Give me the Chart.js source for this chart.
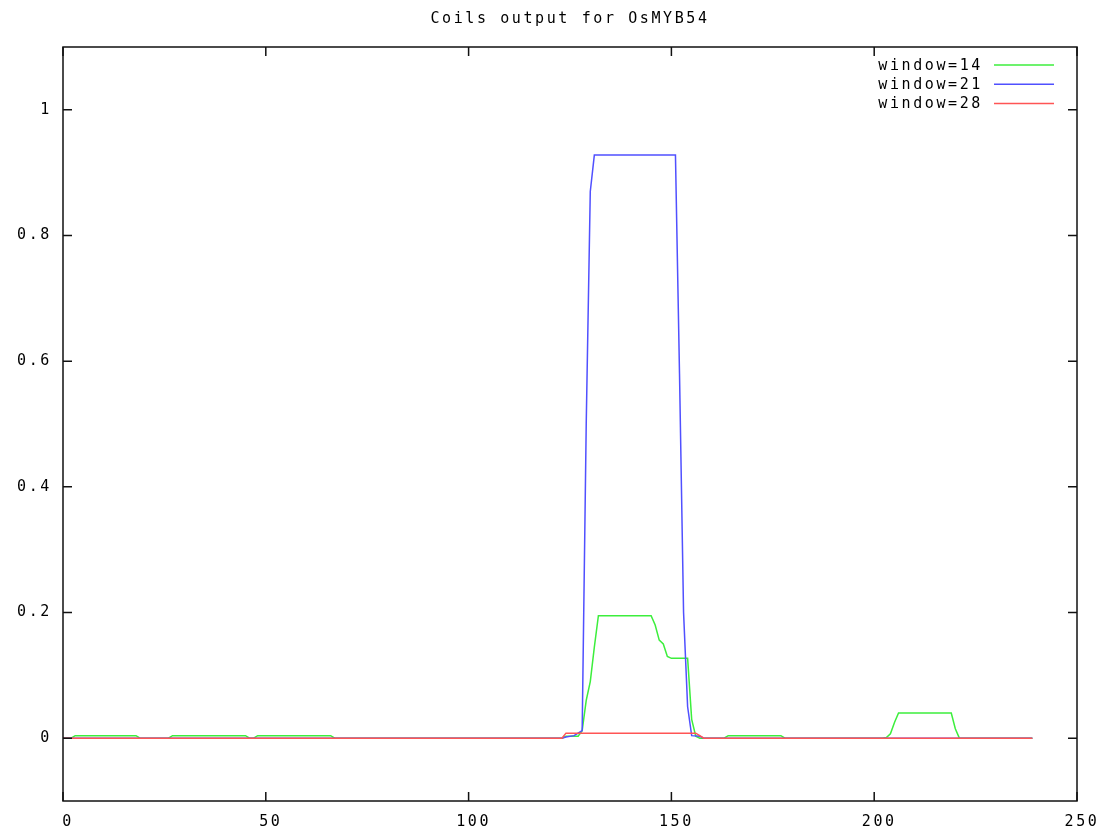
<!DOCTYPE html>
<html>
<head>
<meta charset="utf-8">
<script src="https://cdn.jsdelivr.net/npm/chart.js@4.4.0/dist/chart.umd.min.js"></script>
<style>
html,body{margin:0;padding:0;background:#fff;}
canvas{display:block;}
</style>
</head>
<body>
<canvas id="chart" width="1117" height="832"></canvas>
<script>
const title='Coils output for OsMYB54';
const seriesNames=['window=14','window=21','window=28'];
const xTicks=[0,50,100,150,200,250];
const yTicks=[0,0.2,0.4,0.6,0.8,1];

// breakpoints of each curve (residue position, coil score)
const w14X=[0,2,3,18,19,26,27,45,46,47,48,66,67,123,124,127,128,129,130,131,132,145,146,147,148,149,150,154,155,156,157,163,164,177,178,202,203,204,205,206,219,220,221,239];
const w14Y=[0,0,0.004,0.004,0,0,0.004,0.004,0,0,0.004,0.004,0,0,0.003,0.003,0.012,0.06,0.09,0.145,0.195,0.195,0.18,0.156,0.15,0.13,0.127,0.127,0.03,0.003,0,0,0.004,0.004,0,0,0.001,0.007,0.025,0.04,0.04,0.015,0,0];
const w21X=[0,123,124,126,127,128,129,130,131,151,152,153,154,155,157,158,239];
const w21Y=[0,0,0.002,0.004,0.008,0.012,0.5,0.87,0.928,0.928,0.58,0.2,0.05,0.004,0.003,0,0];
const w28X=[0,123,124,156,157,158,239];
const w28Y=[0,0,0.008,0.008,0.004,0,0];

const colors=['rgb(60,238,60)','rgb(80,80,255)','rgb(255,85,85)'];
const FONT="'DejaVu Sans Mono', monospace";
const SPACING='2.6px';

function pts(xs,ys){return xs.map((v,i)=>({x:v,y:ys[i]}));}

const gnuStyle={
  id:'gnuStyle',
  afterLayout(chart){
    // centre the title over the plot box, like gnuplot
    const t=chart.titleBlock, a=chart.chartArea;
    if(t){t.left=a.left;t.right=a.right;t.width=a.right-a.left;}
  },
  beforeDraw(chart){chart.ctx.letterSpacing=SPACING;},
  afterDraw(chart){
    const ctx=chart.ctx, a=chart.chartArea, x=chart.scales.x, y=chart.scales.y;
    ctx.save();
    ctx.strokeStyle='#111';
    ctx.lineWidth=1.5;
    ctx.strokeRect(a.left,a.top,a.right-a.left,a.bottom-a.top);
    ctx.beginPath();
    xTicks.forEach(v=>{
      const px=x.getPixelForValue(v);
      ctx.moveTo(px,a.bottom);ctx.lineTo(px,a.bottom-9);
      ctx.moveTo(px,a.top);ctx.lineTo(px,a.top+9);
    });
    yTicks.forEach(v=>{
      const py=y.getPixelForValue(v);
      ctx.moveTo(a.left,py);ctx.lineTo(a.left+9,py);
      ctx.moveTo(a.right,py);ctx.lineTo(a.right-9,py);
    });
    ctx.stroke();
    // legend, gnuplot style: text then sample line
    ctx.font='15px '+FONT;
    ctx.letterSpacing=SPACING;
    ctx.textAlign='right';
    ctx.textBaseline='middle';
    seriesNames.forEach((n,i)=>{
      const ly=a.top+18+i*19.3;
      ctx.fillStyle='#000';
      ctx.fillText(n,983,ly+1);
      ctx.strokeStyle=colors[i];
      ctx.lineWidth=1.5;
      ctx.beginPath();ctx.moveTo(994,ly);ctx.lineTo(1054,ly);ctx.stroke();
    });
    ctx.restore();
  }
};

Chart.defaults.font.family=FONT;
Chart.defaults.font.size=15;
Chart.defaults.color='#000';

new Chart(document.getElementById('chart').getContext('2d'),{
  type:'line',
  data:{datasets:[
    {label:seriesNames[0],data:pts(w14X,w14Y),borderColor:colors[0],order:3},
    {label:seriesNames[1],data:pts(w21X,w21Y),borderColor:colors[1],order:2},
    {label:seriesNames[2],data:pts(w28X,w28Y),borderColor:colors[2],order:1}
  ]},
  options:{
    responsive:false,
    animation:false,
    datasets:{line:{borderWidth:1.5,pointRadius:0,tension:0,fill:false}},
    layout:{padding:{left:0,right:40,top:0,bottom:0}},
    plugins:{
      legend:{display:false},
      tooltip:{enabled:false},
      title:{display:true,text:title,font:{size:15,weight:'normal'},padding:{top:10,bottom:19}}
    },
    scales:{
      x:{type:'linear',min:0,max:250,
        grid:{display:false,drawTicks:false},border:{display:false},
        ticks:{padding:12,labelOffset:5,maxRotation:0,callback:v=>String(v)},
        afterBuildTicks:s=>{s.ticks=xTicks.map(v=>({value:v}));},
        afterFit:s=>{s.height=31;}},
      y:{type:'linear',min:-0.1,max:1.1,
        grid:{display:false,drawTicks:false},border:{display:false},
        ticks:{padding:11,callback:v=>String(v)},
        afterBuildTicks:s=>{s.ticks=yTicks.map(v=>({value:v}));},
        afterFit:s=>{s.width=63;}}
    }
  },
  plugins:[gnuStyle]
});
</script>
</body>
</html>
